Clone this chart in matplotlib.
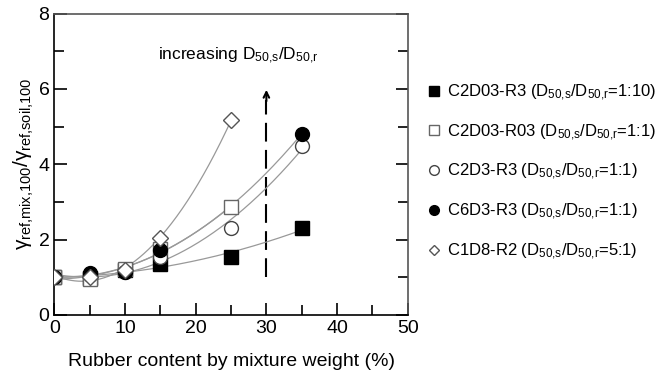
import numpy as np
import matplotlib
matplotlib.use("Agg")
import matplotlib.pyplot as plt
from matplotlib.lines import Line2D
from matplotlib.ticker import MultipleLocator

plt.rcParams["font.family"] = ["Liberation Sans", "DejaVu Sans"]
plt.rcParams["mathtext.fontset"] = "custom"
plt.rcParams["mathtext.rm"] = "Liberation Sans"
plt.rcParams["mathtext.it"] = "Liberation Sans"

# rubber content (%) and normalised modulus for each mixture
x_c2d03_r3 = [0, 5, 10, 15, 25, 35]
y_c2d03_r3 = [1.0, 0.97, 1.2, 1.35, 1.53, 2.3]

x_c2d03_r03 = [0, 5, 10, 15, 25]
y_c2d03_r03 = [1.0, 0.95, 1.22, 1.75, 2.86]

x_c2d3_r3 = [0, 5, 10, 15, 25, 35]
y_c2d3_r3 = [1.0, 1.05, 1.15, 1.55, 2.3, 4.48]

x_c6d3_r3 = [0, 5, 10, 15, 35]
y_c6d3_r3 = [1.0, 1.1, 1.15, 1.72, 4.8]

x_c1d8_r2 = [0, 5, 10, 15, 25]
y_c1d8_r2 = [1.0, 1.0, 1.2, 2.05, 5.17]

labels = [
    r"C2D03-R3 (D$_{50{,}s}$/D$_{50{,}r}$=1:10)",
    r"C2D03-R03 (D$_{50{,}s}$/D$_{50{,}r}$=1:1)",
    r"C2D3-R3 (D$_{50{,}s}$/D$_{50{,}r}$=1:1)",
    r"C6D3-R3 (D$_{50{,}s}$/D$_{50{,}r}$=1:1)",
    r"C1D8-R2 (D$_{50{,}s}$/D$_{50{,}r}$=5:1)",
]

series = [
    (x_c2d03_r3, y_c2d03_r3, "s", "black", "black", 10),
    (x_c2d03_r03, y_c2d03_r03, "s", "white", "#666666", 10),
    (x_c2d3_r3, y_c2d3_r3, "o", "white", "#444444", 10),
    (x_c6d3_r3, y_c6d3_r3, "o", "black", "black", 10),
    (x_c1d8_r2, y_c1d8_r2, "D", "white", "#555555", 8),
]

fig = plt.figure(figsize=(6.62, 3.78), dpi=100)
ax = fig.add_axes([0.082, 0.167, 0.534, 0.797])

# smooth quadratic trend through each series
for x, y, m, fc, ec, ms in series:
    coef = np.polyfit(x, y, 2)
    xs = np.linspace(min(x), max(x), 200)
    ax.plot(xs, np.polyval(coef, xs), color="#999999", lw=0.9, zorder=2)

for x, y, m, fc, ec, ms in series:
    ax.plot(x, y, ls="none", marker=m, ms=ms, mfc=fc, mec=ec, mew=1.0, zorder=3)

# dashed marker line with arrow
ax.plot([30, 30], [1.0, 5.7], ls=(0, (9, 4)), color="black", lw=1.5, zorder=1)
ax.annotate("", xy=(30, 6.05), xytext=(30, 5.6),
            arrowprops=dict(arrowstyle="->", color="black", lw=1.5))
ax.text(26.0, 6.6, r"increasing D$_{50{,}s}$/D$_{50{,}r}$", ha="center", va="bottom", fontsize=12.5)

ax.set_xlim(0, 50)
ax.set_ylim(0, 8)
ax.xaxis.set_major_locator(MultipleLocator(10))
ax.xaxis.set_minor_locator(MultipleLocator(5))
ax.yaxis.set_major_locator(MultipleLocator(2))
ax.yaxis.set_minor_locator(MultipleLocator(1))
ax.tick_params(which="both", direction="in", right=True, top=False, labelsize=14, width=1.2)
ax.tick_params(which="major", length=9)
ax.tick_params(which="minor", length=7)
for s in ax.spines.values():
    s.set_linewidth(1.2)
ax.spines["top"].set_color("#555555")
ax.spines["right"].set_color("#555555")

ax.set_xlabel("Rubber content by mixture weight (%)", fontsize=14, labelpad=12)
ax.set_ylabel(r"$\gamma_{ref{,}mix{,}100}/\gamma_{ref{,}soil{,}100}$", fontsize=15, labelpad=2)

handles = [
    Line2D([], [], ls="none", marker=m, ms=ms * 0.7, mfc=fc, mec=ec, mew=1.0)
    for x, y, m, fc, ec, ms in series
]
fig.legend(handles, labels, loc="upper left", bbox_to_anchor=(0.638, 0.80),
           frameon=False, fontsize=12, labelspacing=1.18, handlelength=0.6,
           handletextpad=0.5, borderaxespad=0)

fig.savefig("out.png", dpi=100)
